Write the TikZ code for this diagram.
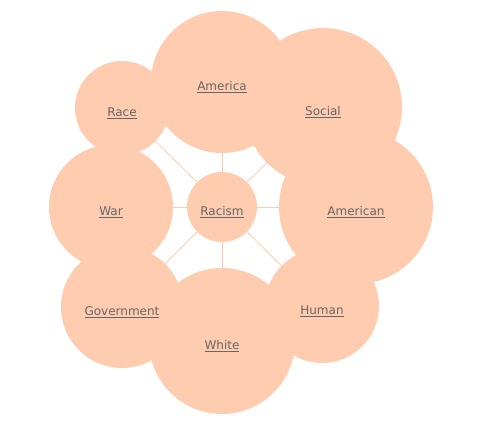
\documentclass[tikz,border=0pt]{standalone}
\usepackage{fontspec}
\setmainfont{DejaVu Sans}
\begin{document}
\begin{tikzpicture}[x=1pt,y=-1pt,
  bubble/.style={circle,fill=peach,draw=none,inner sep=0pt,minimum size=#1},
  word/.style={text=labelgray,font=\fontsize{12}{14}\selectfont,inner sep=0pt,yshift=-5pt},
  link/.style={draw=peach,line width=0.8pt}]
\definecolor{peach}{HTML}{FFCCB0}
\definecolor{labelgray}{HTML}{666666}
\useasboundingbox (0,0) rectangle (477,431);
\coordinate (cR) at (222,207);
\coordinate (cAm) at (222,82);
\coordinate (cSo) at (323,107);
\coordinate (cAn) at (356,207);
\coordinate (cHu) at (322,306);
\coordinate (cWh) at (222,341);
\coordinate (cGo) at (122,307);
\coordinate (cWa) at (111,207);
\coordinate (cRa) at (122,108);
\foreach \c in {cAm,cSo,cAn,cHu,cWh,cGo,cWa,cRa}
  \draw[link] (cR) -- (\c);
\node[bubble=142pt] (america) at (cAm) {};
\node[bubble=158pt] (social) at (cSo) {};
\node[bubble=154pt] (american) at (cAn) {};
\node[bubble=114pt] (human) at (cHu) {};
\node[bubble=146pt] (white) at (cWh) {};
\node[bubble=122pt] (government) at (cGo) {};
\node[bubble=124pt] (war) at (cWa) {};
\node[bubble=94pt] (race) at (cRa) {};
\node[bubble=70pt] (racism) at (cR) {};
\node[word] (tAm) at (america) {\underline{America}};
\node[word] (tSo) at (social) {\underline{Social}};
\node[word] (tAn) at (american) {\underline{American}};
\node[word] (tHu) at (human) {\underline{Human}};
\node[word] (tWh) at (white) {\underline{White}};
\node[word] (tGo) at (government) {\underline{Government}};
\node[word] (tWa) at (war) {\underline{War}};
\node[word] (tRa) at (race) {\underline{Race}};
\node[word] (tR) at (racism) {\underline{Racism}};
\end{tikzpicture}
\end{document}
